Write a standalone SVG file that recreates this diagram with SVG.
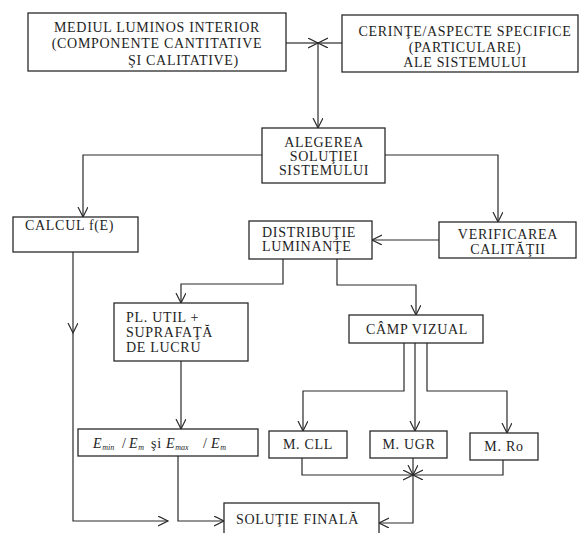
<svg xmlns="http://www.w3.org/2000/svg" width="581" height="533" viewBox="0 0 581 533">
<defs>
<style>
.box{fill:#fff;stroke:#2a2a2a;stroke-width:1.3}
.t{font-family:"Liberation Serif","DejaVu Serif",serif;font-size:14px;letter-spacing:0.7px;fill:#1e1e1e}
.c{text-anchor:middle}
.i{font-style:italic}
.s{font-size:8px;letter-spacing:0}
.ln{fill:none;stroke:#2a2a2a;stroke-width:1.2}
</style>
<marker id="ah" markerUnits="userSpaceOnUse" markerWidth="12" markerHeight="12" refX="10" refY="5" orient="auto">
<path d="M0,0 L10,5 L0,10" fill="none" stroke="#2a2a2a" stroke-width="1.2"/>
</marker>
</defs>
<rect width="581" height="533" fill="#fff"/>
<g id="connectors" class="ln">
<path d="M286,43 H318" marker-end="url(#ah)"/>
<path d="M342,43 H318" marker-end="url(#ah)"/>
<path d="M318,43 V128" marker-end="url(#ah)"/>
<path d="M262,155 H83 V217" marker-end="url(#ah)"/>
<path d="M385,155 H498 V222" marker-end="url(#ah)"/>
<path d="M439,240 H372" marker-end="url(#ah)"/>
<path d="M283,259 V284 H181 V303" marker-end="url(#ah)"/>
<path d="M337,259 V285 H416 V315" marker-end="url(#ah)"/>
<path d="M181,361 V429" marker-end="url(#ah)"/>
<path d="M404,343 V391 H303 V431" marker-end="url(#ah)"/>
<path d="M415,343 V431" marker-end="url(#ah)"/>
<path d="M427,343 V391 H507 V433" marker-end="url(#ah)"/>
<path d="M302,458 V475 H413" marker-end="url(#ah)"/>
<path d="M503,460 V475 H413" marker-end="url(#ah)"/>
<path d="M413,458 V475" marker-end="url(#ah)"/>
<path d="M413,475 V523 H379" marker-end="url(#ah)"/>
<path d="M73,252 V333" marker-end="url(#ah)"/>
<path d="M73,333 V521 H168" marker-end="url(#ah)"/>
<path d="M178,456 V521 H224" marker-end="url(#ah)"/>
</g>
<g id="n-mediul">
<rect class="box" x="28" y="13" width="258" height="58"/>
<text class="t c" x="157" y="32">MEDIUL LUMINOS INTERIOR</text>
<text class="t c" x="157" y="48">(COMPONENTE CANTITATIVE</text>
<text class="t" x="128" y="65">ŞI CALITATIVE)</text>
</g>
<g id="n-cerinte">
<rect class="box" x="342" y="15" width="236" height="57"/>
<text class="t c" x="465" y="36">CERINŢE/ASPECTE SPECIFICE</text>
<text class="t c" x="465" y="52">(PARTICULARE)</text>
<text class="t c" x="465" y="67">ALE SISTEMULUI</text>
</g>
<g id="n-alegerea">
<rect class="box" x="262" y="128" width="123" height="55"/>
<text class="t c" x="324" y="147">ALEGEREA</text>
<text class="t c" x="324" y="161">SOLUŢIEI</text>
<text class="t c" x="324" y="175">SISTEMULUI</text>
</g>
<g id="n-calcul">
<rect class="box" x="13" y="217" width="125" height="35"/>
<text class="t" x="25" y="230">CALCUL f(E)</text>
</g>
<g id="n-distributie">
<rect class="box" x="249" y="221" width="123" height="38"/>
<text class="t" x="262" y="237">DISTRIBUŢIE</text>
<text class="t" x="262" y="251">LUMINANŢE</text>
</g>
<g id="n-verificarea">
<rect class="box" x="439" y="222" width="137" height="36"/>
<text class="t c" x="508" y="239">VERIFICAREA</text>
<text class="t c" x="508" y="254">CALITĂŢII</text>
</g>
<g id="n-plutil">
<rect class="box" x="114" y="303" width="134" height="58"/>
<text class="t" x="126" y="322">PL. UTIL +</text>
<text class="t" x="126" y="337">SUPRAFAŢĂ</text>
<text class="t" x="126" y="352">DE LUCRU</text>
</g>
<g id="n-camp">
<rect class="box" x="349" y="315" width="134" height="28"/>
<text class="t c" x="417" y="334">CÂMP VIZUAL</text>
</g>
<g id="n-e">
<rect class="box" x="78" y="429" width="180" height="27"/>
<text class="t" y="448"><tspan class="i" x="93">E</tspan><tspan class="i s" dy="2">min</tspan><tspan x="122" dy="-2">/</tspan><tspan class="i" x="129">E</tspan><tspan class="i s" dy="2">m</tspan><tspan x="151" dy="-2">şi</tspan><tspan class="i" x="166">E</tspan><tspan class="i s" dy="2">max</tspan><tspan x="203" dy="-2">/</tspan><tspan class="i" x="211">E</tspan><tspan class="i s" dy="2">m</tspan></text>
</g>
<g id="n-mcll">
<rect class="box" x="269" y="431" width="78" height="27"/>
<text class="t c" x="308" y="449">M. CLL</text>
</g>
<g id="n-mugr">
<rect class="box" x="370" y="431" width="77" height="27"/>
<text class="t c" x="409" y="449">M. UGR</text>
</g>
<g id="n-mro">
<rect class="box" x="470" y="433" width="68" height="27"/>
<text class="t c" x="504" y="451">M. Ro</text>
</g>
<g id="n-solutie">
<rect class="box" x="224" y="503" width="155" height="40"/>
<text class="t" x="236" y="524">SOLUŢIE FINALĂ</text>
</g>
</svg>
